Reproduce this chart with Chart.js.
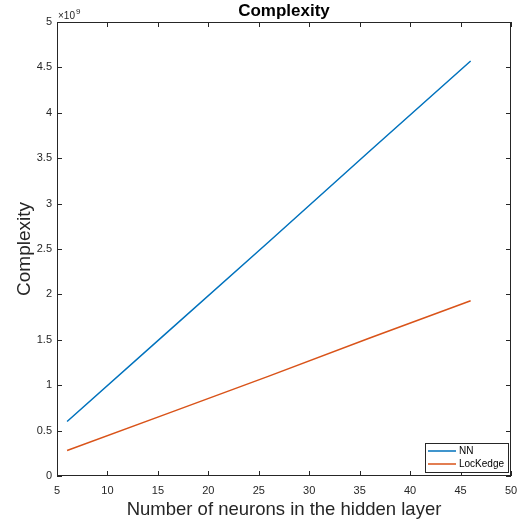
<!DOCTYPE html>
<html>
<head>
<meta charset="utf-8">
<script src="https://cdn.jsdelivr.net/npm/chart.js@4.4.1/dist/chart.umd.min.js"></script>
<style>
  html, body { margin: 0; padding: 0; background: #fff; }
  #wrap { width: 522px; height: 523px; }
</style>
</head>
<body>
<div id="wrap"><canvas id="chart" width="522" height="523"></canvas></div>
<script>
// ==== Data (complexity in units of 1e9) ====
const neurons = [6, 16, 26, 36, 46];
const nnValues = [0.60, 1.59, 2.58, 3.58, 4.57];
const lockedgeValues = [0.28, 0.69, 1.10, 1.52, 1.93];
const seriesNames = ['NN', 'LocKedge'];
const seriesColors = ['#0072BD', '#D95319'];
const xTicks = [5, 10, 15, 20, 25, 30, 35, 40, 45, 50];
const yTicks = [0, 0.5, 1, 1.5, 2, 2.5, 3, 3.5, 4, 4.5, 5];

const FONT = '"Liberation Sans", Arial, Helvetica, sans-serif';
const AXIS = '#262626';

const toPoints = vals => vals.map((v, i) => ({ x: neurons[i], y: v }));

// ==== MATLAB-like axes box, inward ticks, titles and legend ====
const matlabAxes = {
  id: 'matlabAxes',
  afterDraw(chart) {
    const { ctx, chartArea: a, scales: { x, y } } = chart;
    ctx.save();
    ctx.strokeStyle = AXIS;
    ctx.lineWidth = 1;
    ctx.strokeRect(a.left + 0.5, a.top + 0.5, a.right - a.left - 1, a.bottom - a.top - 1);

    const tl = 5;
    ctx.beginPath();
    x.ticks.forEach(t => {
      const px = Math.round(x.getPixelForValue(t.value)) + 0.5;
      ctx.moveTo(px, a.bottom); ctx.lineTo(px, a.bottom - tl);
      ctx.moveTo(px, a.top); ctx.lineTo(px, a.top + tl);
    });
    y.ticks.forEach(t => {
      const py = Math.round(y.getPixelForValue(t.value)) + 0.5;
      ctx.moveTo(a.left, py); ctx.lineTo(a.left + tl, py);
      ctx.moveTo(a.right, py); ctx.lineTo(a.right - tl, py);
    });
    ctx.stroke();

    // title
    ctx.fillStyle = '#000';
    ctx.font = 'bold 17px ' + FONT;
    ctx.textAlign = 'center';
    ctx.textBaseline = 'alphabetic';
    ctx.fillText('Complexity', (a.left + a.right) / 2, 16);

    // exponent
    ctx.fillStyle = AXIS;
    ctx.textAlign = 'left';
    ctx.font = '10px ' + FONT;
    ctx.fillText('\u00d710', a.left + 1, 19);
    ctx.font = '8px ' + FONT;
    ctx.fillText('9', a.left + 19, 14);

    // axis titles
    ctx.font = '18.5px ' + FONT;
    ctx.textAlign = 'center';
    ctx.fillText('Number of neurons in the hidden layer', (a.left + a.right) / 2, 515);
    ctx.save();
    ctx.translate(30, (a.top + a.bottom) / 2);
    ctx.rotate(-Math.PI / 2);
    ctx.font = '19px ' + FONT;
    ctx.fillText('Complexity', 0, 0);
    ctx.restore();

    // legend box
    const lx = 425, ly = 443, lw = 83, lh = 29;
    ctx.fillStyle = '#fff';
    ctx.fillRect(lx, ly, lw, lh);
    ctx.strokeStyle = AXIS;
    ctx.lineWidth = 1;
    ctx.strokeRect(lx + 0.5, ly + 0.5, lw, lh);
    ctx.font = '10px ' + FONT;
    ctx.textAlign = 'left';
    ctx.textBaseline = 'middle';
    chart.data.datasets.forEach((ds, i) => {
      const yy = ly + 8 + i * 13;
      ctx.strokeStyle = ds.borderColor;
      ctx.lineWidth = 1.5;
      ctx.beginPath();
      ctx.moveTo(lx + 3, yy); ctx.lineTo(lx + 31, yy);
      ctx.stroke();
      ctx.fillStyle = '#000';
      ctx.fillText(ds.label, lx + 34, yy + 0.5);
    });
    ctx.restore();
  }
};

// ==== Chart.js ====
const ctx = document.getElementById('chart').getContext('2d');
new Chart(ctx, {
  type: 'line',
  data: {
    datasets: [
      { label: seriesNames[0], data: toPoints(nnValues), borderColor: seriesColors[0], borderWidth: 1.5, pointRadius: 0, fill: false, tension: 0 },
      { label: seriesNames[1], data: toPoints(lockedgeValues), borderColor: seriesColors[1], borderWidth: 1.5, pointRadius: 0, fill: false, tension: 0 }
    ]
  },
  options: {
    responsive: false,
    animation: false,
    layout: { padding: { top: 22, right: 11, left: 0, bottom: 0 } },
    plugins: { legend: { display: false }, tooltip: { enabled: false } },
    scales: {
      x: {
        type: 'linear', min: 5, max: 50,
        afterBuildTicks: s => { s.ticks = xTicks.map(v => ({ value: v })); },
        afterFit: s => { s.height = 47; s.paddingRight = 0; },
        grid: { display: false, drawTicks: false },
        border: { display: false },
        ticks: { color: AXIS, font: { family: FONT, size: 11 }, padding: 8, maxRotation: 0 }
      },
      y: {
        type: 'linear', min: 0, max: 5,
        afterBuildTicks: s => { s.ticks = yTicks.map(v => ({ value: v })); },
        afterFit: s => { s.width = 57; },
        grid: { display: false, drawTicks: false },
        border: { display: false },
        ticks: { color: AXIS, font: { family: FONT, size: 11 }, padding: 5, callback: v => String(v) }
      }
    }
  },
  plugins: [matlabAxes]
});
</script>
</body>
</html>
